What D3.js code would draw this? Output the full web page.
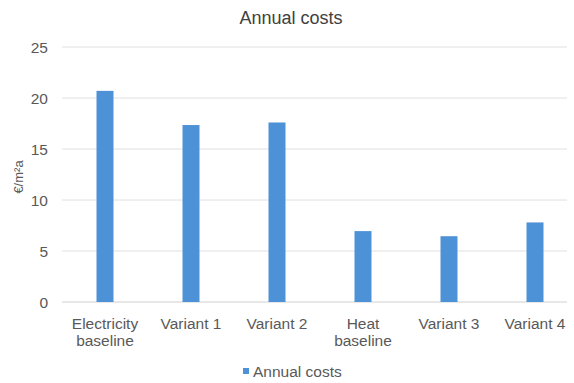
<!DOCTYPE html>
<html><head><meta charset="utf-8">
<script src="https://cdn.jsdelivr.net/npm/d3@7"></script>
<style>body{margin:0;background:#fff}svg{display:block;font-family:"Liberation Sans",Arial,sans-serif}</style>
</head><body><svg id="c" width="574" height="383"></svg>
<script>
const categories = [["Electricity","baseline"],["Variant 1"],["Variant 2"],["Heat","baseline"],["Variant 3"],["Variant 4"]];
const values = [20.7, 17.35, 17.6, 6.95, 6.45, 7.8];
const yTicks = [0,5,10,15,20,25];
const seriesName = "Annual costs";
const title = "Annual costs";
const yTitle = "€/m²a";

const svg = d3.select("#c");
const y = d3.scaleLinear().domain([0,25]).range([302,47]);
const x = d3.scaleBand().domain(categories.map((d,i)=>i)).range([62,578]).paddingInner(0.8).paddingOuter(0.4);
const gridRight = 567;

svg.append("g").selectAll("line").data(yTicks).join("line")
  .attr("x1",62).attr("x2",gridRight).attr("y1",d=>y(d)).attr("y2",d=>y(d))
  .attr("stroke",d=>d===0?"#d0d0d0":"#e0e0e0").attr("stroke-width",1);

svg.append("g").selectAll("text").data(yTicks).join("text")
  .attr("x",48).attr("y",d=>y(d)+5.5).attr("text-anchor","end")
  .attr("font-size",15.5).attr("fill","#595959").text(d=>d);

const bw = 17;
svg.append("g").selectAll("rect").data(values).join("rect")
  .attr("x",(d,i)=>x(i)+x.bandwidth()/2-bw/2).attr("width",bw)
  .attr("y",d=>y(d)).attr("height",d=>y(0)-y(d)).attr("fill","#4d91d7");

const lab = svg.append("g").selectAll("text").data(categories).join("text")
  .attr("x",(d,i)=>x(i)+x.bandwidth()/2).attr("y",329).attr("text-anchor","middle")
  .attr("font-size",15.5).attr("fill","#595959");
lab.selectAll("tspan").data(d=>d).join("tspan")
  .attr("x",function(){return this.parentNode.getAttribute("x");})
  .attr("dy",(d,i)=>i===0?0:17).text(d=>d);

svg.append("text").attr("x",291).attr("y",24).attr("text-anchor","middle")
  .attr("font-size",18).attr("fill","#404040").text(title);

svg.append("text").attr("transform","translate(23,177) rotate(-90)").attr("text-anchor","middle")
  .attr("font-size",13).attr("fill","#595959").text(yTitle);

svg.append("rect").attr("x",243).attr("y",368).attr("width",6).attr("height",6).attr("fill","#4d91d7");
svg.append("text").attr("x",253).attr("y",377).attr("font-size",15.5).attr("fill","#595959").text(seriesName);
</script></body></html>
